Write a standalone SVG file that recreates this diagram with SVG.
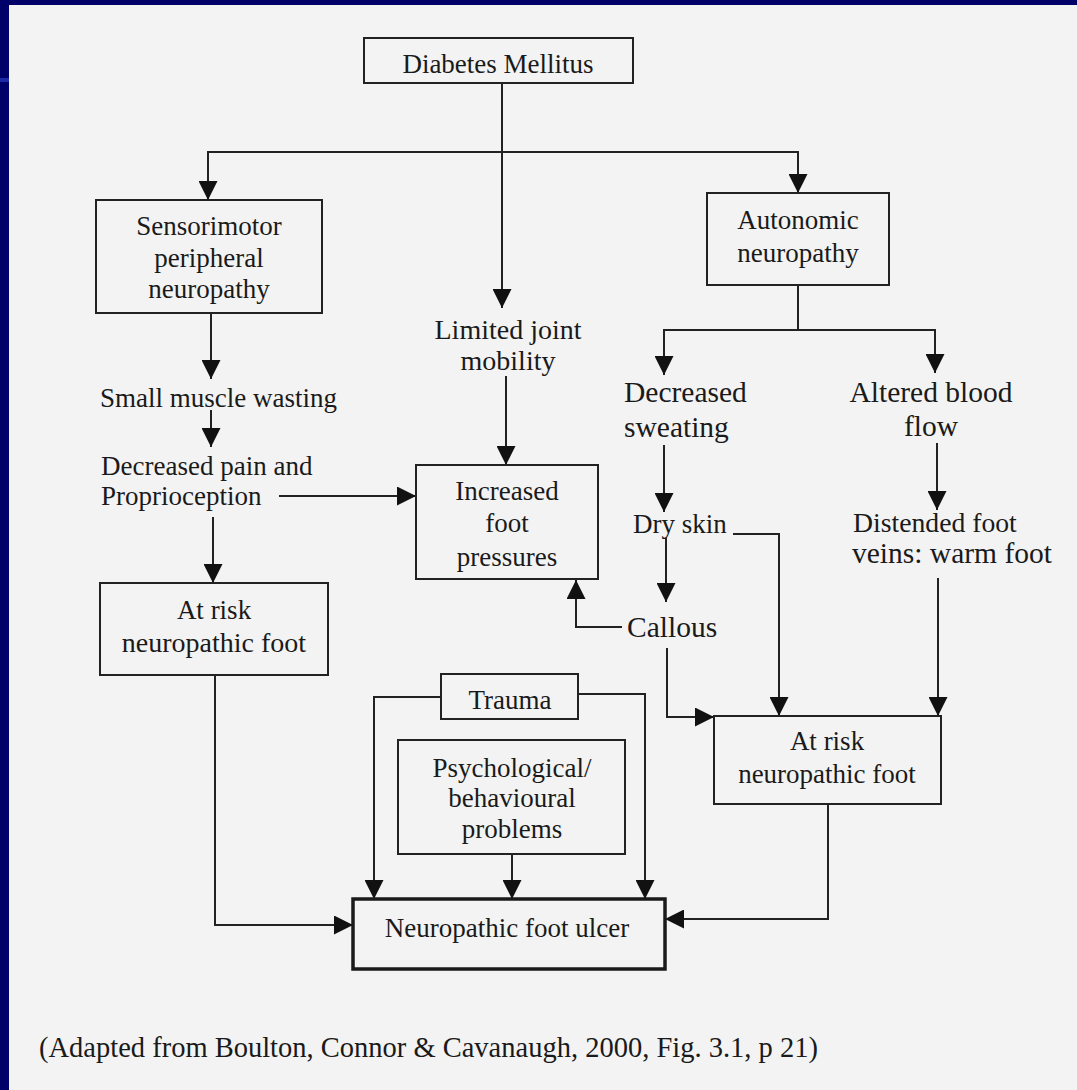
<svg xmlns="http://www.w3.org/2000/svg" width="1077" height="1090" viewBox="0 0 1077 1090">
<style>
  .box { fill: none; stroke: #222; stroke-width: 2; }
  .thick { fill: none; stroke: #1a1a1a; stroke-width: 3.5; }
  .t { font-family: "Liberation Serif", "Times New Roman", serif; font-size: 27px; fill: #1a1a1a; }
  .big { font-size: 29.5px; }
  .c { text-anchor: middle; }
  .ln { fill: none; stroke: #222; stroke-width: 2; marker-end: url(#ah); }
</style>
<defs>
  <marker id="ah" markerUnits="userSpaceOnUse" markerWidth="19" markerHeight="19" refX="19" refY="9.5" orient="auto" viewBox="0 0 19 19">
    <path d="M0,0 L19,9.5 L0,19 z" fill="#111"/>
  </marker>
</defs>
<rect x="0" y="0" width="1077" height="1090" fill="#000068"/>
<rect x="0" y="78" width="9" height="4" fill="#1c2aa8"/>
<rect x="9" y="5" width="1068" height="1085" fill="#f3f3f3"/>

<g id="connectors">
  <path class="ln" d="M502,152 H208 V200"/>
  <path class="ln" d="M502,152 H798 V193"/>
  <path class="ln" d="M502,83 V308"/>
  <path class="ln" d="M211,313 V379"/>
  <path class="ln" d="M211,410 V447"/>
  <path class="ln" d="M279,496 H416"/>
  <path class="ln" d="M213,517 V583"/>
  <path class="ln" d="M506,376 V465"/>
  <path class="ln" d="M798,285 V330 H664 V375"/>
  <path class="ln" d="M798,330 H935 V373"/>
  <path class="ln" d="M664,445 V512"/>
  <path class="ln" d="M937,443 V510"/>
  <path class="ln" d="M733,534 H779 V716"/>
  <path class="ln" d="M666,538 V602"/>
  <path class="ln" d="M622,627 H576 V580"/>
  <path class="ln" d="M667,648 V717 H714"/>
  <path class="ln" d="M938,578 V716"/>
  <path class="ln" d="M215,675 V925 H353"/>
  <path class="ln" d="M441,697 H374 V899"/>
  <path class="ln" d="M578,694 H645 V899"/>
  <path class="ln" d="M512,854 V899"/>
  <path class="ln" d="M828,804 V919 H665"/>
</g>

<g id="diabetes">
  <rect class="box" x="364" y="38" width="269" height="45"/>
  <text class="t c" x="498" y="73">Diabetes Mellitus</text>
</g>
<g id="sensorimotor">
  <rect class="box" x="96" y="200" width="226" height="113"/>
  <text class="t c" x="209" y="235">Sensorimotor</text>
  <text class="t c" x="209" y="267">peripheral</text>
  <text class="t c" x="209" y="298">neuropathy</text>
</g>
<g id="autonomic">
  <rect class="box" x="707" y="193" width="182" height="92"/>
  <text class="t c" x="798" y="229">Autonomic</text>
  <text class="t c" x="798" y="262">neuropathy</text>
</g>
<g id="limited">
  <text class="t c" x="508" y="339" style="font-size:28px">Limited joint</text>
  <text class="t c" x="508" y="370" style="font-size:28px">mobility</text>
</g>
<g id="wasting">
  <text class="t" x="100" y="407">Small muscle wasting</text>
</g>
<g id="decreased-pain">
  <text class="t" x="101" y="475">Decreased pain and</text>
  <text class="t" x="101" y="505">Proprioception</text>
</g>
<g id="increased">
  <rect class="box" x="416" y="465" width="182" height="114"/>
  <text class="t c" x="507" y="500">Increased</text>
  <text class="t c" x="507" y="532">foot</text>
  <text class="t c" x="507" y="566">pressures</text>
</g>
<g id="sweating">
  <text class="t big" x="624" y="402">Decreased</text>
  <text class="t big" x="624" y="437">sweating</text>
</g>
<g id="blood">
  <text class="t big c" x="931" y="402">Altered blood</text>
  <text class="t big c" x="931" y="436">flow</text>
</g>
<g id="dryskin">
  <text class="t" x="633" y="533">Dry skin</text>
</g>
<g id="distended">
  <text class="t" x="853" y="532" style="font-size:27.7px">Distended foot</text>
  <text class="t big" x="852" y="563">veins: warm foot</text>
</g>
<g id="callous">
  <text class="t big" x="627" y="637">Callous</text>
</g>
<g id="atrisk-left">
  <rect class="box" x="100" y="583" width="228" height="92"/>
  <text class="t c" x="214" y="619">At risk</text>
  <text class="t c" x="214" y="652" style="font-size:28px">neuropathic foot</text>
</g>
<g id="atrisk-right">
  <rect class="box" x="714" y="716" width="227" height="88"/>
  <text class="t c" x="827" y="750">At risk</text>
  <text class="t c" x="827" y="783">neuropathic foot</text>
</g>
<g id="trauma">
  <rect class="box" x="441" y="674" width="137" height="45"/>
  <text class="t c" x="510" y="709">Trauma</text>
</g>
<g id="psych">
  <rect class="box" x="398" y="740" width="227" height="114"/>
  <text class="t c" x="512" y="777">Psychological/</text>
  <text class="t c" x="512" y="807">behavioural</text>
  <text class="t c" x="512" y="838">problems</text>
</g>
<g id="ulcer">
  <rect class="thick" x="353" y="899" width="312" height="70"/>
  <text class="t c" x="507" y="937">Neuropathic foot ulcer</text>
</g>
<g id="caption">
  <text class="t" x="39" y="1057" style="font-size:28.5px">(Adapted from Boulton, Connor &amp; Cavanaugh, 2000, Fig. 3.1, p 21)</text>
</g>
</svg>
